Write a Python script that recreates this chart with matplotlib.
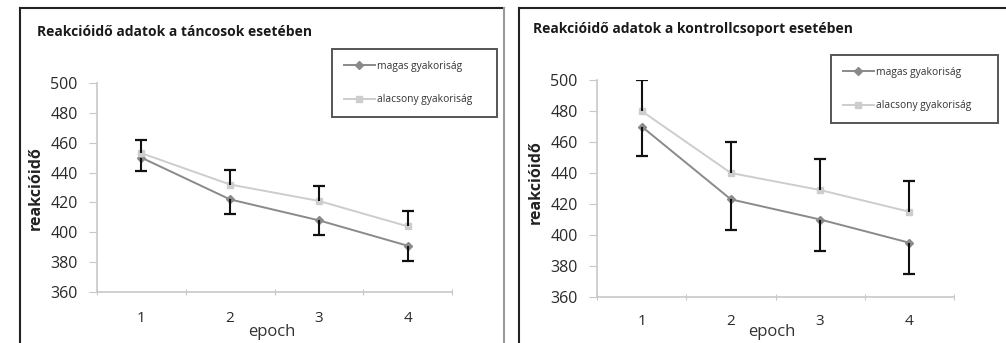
import numpy as np
import matplotlib.pyplot as plt
from matplotlib.lines import Line2D

plt.rcParams['font.family'] = ['Open Sans', 'DejaVu Sans']

W, H = 1006, 343

epochs = [1, 2, 3, 4]
series_names = ['magas gyakoriság', 'alacsony gyakoriság']

# táncosok
dance_high = [450, 422, 408, 391]
dance_high_err = [9, 10, 10, 10]
dance_low = [453, 432, 421, 404]
dance_low_err = [9, 10, 10, 10]

# kontrollcsoport
ctrl_high = [470, 423, 410, 395]
ctrl_high_err = [19, 20, 20, 20]
ctrl_low = [480, 440, 429, 415]
ctrl_low_err = [20, 20, 20, 20]

titles = ['Reakcióidő adatok a táncosok esetében',
          'Reakcióidő adatok a kontrollcsoport esetében']
yticks = [360, 380, 400, 420, 440, 460, 480, 500]

c_high = '#8a8a8a'
c_low = '#cdcdcd'


def fx(px):
    return px / W


def fy(py):
    return 1 - py / H


fig = plt.figure(figsize=(W / 100, H / 100), dpi=100)


def panel(ax_box, high, high_err, low, low_err, title, title_xy, ylab_xy,
          epoch_xy, leg_box, xpad):
    x0, x1, ytop, ybot = ax_box
    ax = fig.add_axes([fx(x0), fy(ybot), fx(x1 - x0), (ybot - ytop) / H])
    x = np.array(epochs)
    ax.plot(x, high, color=c_high, lw=1.4, marker='D', ms=4.5,
            label=series_names[0], zorder=3)
    ax.plot(x, low, color=c_low, lw=1.4, marker='s', ms=4.5,
            label=series_names[1], zorder=3)
    # hibasávok: magas lefelé, alacsony felfelé
    hl = np.array(high) - np.array(high_err)
    lu = np.array(low) + np.array(low_err)
    ax.vlines(x, hl, high, color='#111111', lw=1.5, zorder=4)
    ax.vlines(x, low, lu, color='#111111', lw=1.5, zorder=4)
    ax.plot(x, hl, ls='none', marker='_', ms=8, mew=1.6, color='#111111', zorder=4)
    ax.plot(x, lu, ls='none', marker='_', ms=8, mew=1.6, color='#111111', zorder=4)

    ax.set_xlim(0.5, 4.5)
    ax.set_ylim(360, 500)
    ax.set_yticks(yticks)
    ax.set_xticks([0.5, 1.5, 2.5, 3.5, 4.5])
    ax.set_xticklabels([])
    ax.set_xticks(epochs, minor=True)
    ax.set_xticklabels([str(e) for e in epochs], minor=True)
    ax.tick_params(axis='x', which='minor', length=0, pad=xpad, labelsize=11,
                   labelcolor='#2a2a2a')
    ax.tick_params(axis='x', which='major', length=5, color='#c8c8c8', direction='inout')
    ax.tick_params(axis='y', length=6, color='#c8c8c8', pad=8, labelsize=11.5,
                   labelcolor='#2a2a2a')
    for s in ['top', 'right']:
        ax.spines[s].set_visible(False)
    for s in ['left', 'bottom']:
        ax.spines[s].set_color('#c8c8c8')
        ax.spines[s].set_linewidth(1.2)

    fig.text(fx(title_xy[0]), fy(title_xy[1]), title, fontsize=10,
             fontweight='bold', color='#1a1a1a', va='center', ha='left')
    fig.text(fx(ylab_xy[0]), fy(ylab_xy[1]), 'reakcióidő', fontsize=11.5,
             fontweight='bold', rotation=90, color='#222222', ha='center', va='center')
    fig.text(fx(epoch_xy[0]), fy(epoch_xy[1]), 'epoch', fontsize=12,
             color='#333333', ha='center', va='center')

    lx0, ly0, lx1, ly1 = leg_box
    leg = ax.legend(loc='upper left',
                    bbox_to_anchor=(fx(lx0), fy(ly1), fx(lx1 - lx0), (ly1 - ly0) / H),
                    bbox_transform=fig.transFigure, mode='expand',
                    fontsize=7.4, handlelength=3.0, handletextpad=0.2,
                    labelspacing=2.2, borderpad=1.15, borderaxespad=0,
                    fancybox=False, framealpha=1)
    leg.get_frame().set_edgecolor('#555555')
    leg.get_frame().set_linewidth(1.4)
    for t in leg.get_texts():
        t.set_color('#333333')
    return ax


panel((97, 452, 83, 292), dance_high, dance_high_err, dance_low, dance_low_err,
      titles[0], (37, 32), (36, 188), (272, 332), (332, 49, 497, 116), 14)
panel((597, 954, 80, 297), ctrl_high, ctrl_high_err, ctrl_low, ctrl_low_err,
      titles[1], (533, 29), (536, 182), (772, 332), (831, 55, 998, 122), 12)

# keretek
frame = [
    ((20, 20), (8, 343), '#222222'),
    ((20, 504), (8, 8), '#222222'),
    ((504, 504), (8, 343), '#9a9a9a'),
    ((519, 519), (8, 343), '#222222'),
    ((519, 1006), (8, 8), '#222222'),
]
for xs, ys, c in frame:
    fig.add_artist(Line2D([fx(v) for v in xs], [fy(v) for v in ys],
                          transform=fig.transFigure, color=c, lw=1.5))

fig.savefig('out.png', dpi=100)
